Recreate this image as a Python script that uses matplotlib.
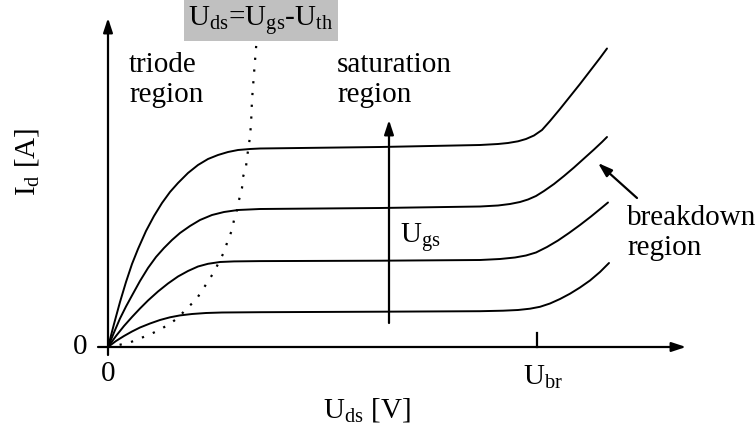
import matplotlib
matplotlib.use('Agg')
import matplotlib.pyplot as plt

plt.rcParams['font.family'] = 'Liberation Serif'
plt.rcParams['mathtext.fontset'] = 'custom'
plt.rcParams['mathtext.rm'] = 'Liberation Serif'
plt.rcParams['mathtext.it'] = 'Liberation Serif:italic'

FS = 21

# output characteristics, one curve per gate voltage (Uds, Id)
uds_1 = [0, 6, 12, 18, 24, 30, 38, 46, 54, 62, 70, 80, 90, 100, 110, 120, 130, 142, 152,
         272, 372, 390, 400, 410, 418, 426, 434, 442, 452, 462, 472, 482, 492, 499]
id_1 = [0, 23, 45, 65, 83, 98, 116, 131, 144, 155, 164, 174, 182, 188, 192, 195, 197, 198, 198.5,
        200, 202, 203, 204, 205.7, 208, 211.5, 217, 226, 238, 250.5, 263, 276, 289, 298.5]

uds_2 = [0, 6, 12, 18, 24, 32, 40, 48, 56, 64, 72, 82, 92, 104, 116, 130, 152,
         272, 372, 390, 402, 412, 420, 428, 436, 446, 456, 466, 476, 486, 494, 499]
id_2 = [0, 14.5, 28.5, 40.5, 51.5, 66, 79, 90, 99, 107, 114, 121, 127, 132, 135, 137, 138,
        139, 140.5, 141.5, 143, 145, 147.5, 151, 156, 163, 171, 179.5, 188.5, 197.5, 205, 210]

uds_3 = [0, 8, 16, 24, 32, 40, 50, 60, 70, 80, 90, 100, 112, 126, 152,
         272, 372, 392, 407, 418, 428, 439, 450, 461, 472, 483, 494, 500]
id_3 = [0, 11, 21, 30, 38.5, 46.5, 55.5, 63.5, 70.5, 76, 80.5, 83.2, 85, 85.6, 85.9,
        86.3, 87, 88, 89.5, 91.5, 94.5, 100, 106.5, 114, 122, 130.5, 139.5, 144.5]

uds_4 = [0, 8, 16, 24, 32, 42, 52, 62, 72, 84, 98, 114, 152,
         272, 372, 395, 410, 422, 432, 442, 452, 462, 472, 482, 492, 501]
id_4 = [0, 6, 11, 15.5, 19.5, 23.5, 27, 29.7, 31.6, 33, 34, 34.5, 34.8,
        35.3, 35.8, 36.3, 37, 38.3, 40.2, 43.5, 48, 53.3, 59.5, 66.5, 75, 84]

# saturation boundary Uds = Ugs - Uth
sat_uds = [0, 11, 23, 33, 43, 53, 63, 71, 79, 88, 93, 99, 106, 111, 116, 120, 124, 126, 129, 131,
           134, 135, 138, 139, 141, 143, 144, 146.5, 148.5]
sat_id = [0, 2, 5, 9, 13, 18, 24, 30, 39, 47, 55, 64, 75, 85, 95, 107, 117, 127, 137, 147,
          159, 170, 180, 190, 202, 222, 247, 280, 305]

u_br = 429

fig = plt.figure(figsize=(7.56, 4.34), dpi=100)
ax = fig.add_axes([0, 0, 1, 1])
ax.set_xlim(-108, 648)
ax.set_ylim(-87, 347)
ax.axis('off')

for u, i in [(uds_1, id_1), (uds_2, id_2), (uds_3, id_3), (uds_4, id_4)]:
    ax.plot(u, i, color='black', lw=1.4, solid_joinstyle='round', solid_capstyle='round')

ax.plot(sat_uds, sat_id, color='black', lw=1.6, linestyle=(0, (1, 4.3)))

# axes with arrow heads
arrow = dict(arrowstyle='-|>,head_length=0.85,head_width=0.28', lw=1.6, color='black',
             shrinkA=0, shrinkB=0, mutation_scale=10)
ax.annotate('', xy=(578, 0), xytext=(-10, 0), arrowprops=arrow)
ax.annotate('', xy=(0, 329), xytext=(0, -8), arrowprops=arrow)
ax.plot([u_br, u_br], [0, 14], color='black', lw=1.6)

# Ugs direction and breakdown pointer
ax.annotate('', xy=(281, 227), xytext=(281, 24), arrowprops=arrow)
ax.annotate('', xy=(490, 184), xytext=(529, 149), arrowprops=arrow)

ax.text(-28, 0, '0', fontsize=FS, ha='center', va='center')
ax.text(0, -27, '0', fontsize=FS, ha='center', va='center')
ax.text(415, -38, 'U$_{\\mathrm{br}}$', fontsize=FS, ha='left', va='baseline')
ax.text(259, -63, 'U$_{\\mathrm{ds}}$ [V]', fontsize=FS, ha='center', va='center')
ax.text(-81, 185, 'I$_{\\mathrm{d}}$ [A]', fontsize=FS, ha='center', va='center', rotation=90)
ax.text(292, 104, 'U$_{\\mathrm{gs}}$', fontsize=FS, ha='left', va='baseline')

for x0, y0, lines in [(21, 275, ['triode', 'region']), (229, 275, ['saturation', 'region']),
                      (519, 122, ['breakdown', 'region'])]:
    for k, s in enumerate(lines):
        ax.text(x0, y0 - 30 * k, s, fontsize=FS, ha='left', va='baseline')

ax.text(153, 327, 'U$_{\\mathrm{ds}}$=U$_{\\mathrm{gs}}$-U$_{\\mathrm{th}}$', fontsize=FS,
        ha='center', va='center',
        bbox=dict(boxstyle='square,pad=0.14', facecolor='#c0c0c0', edgecolor='none'))

fig.savefig('out.png', dpi=100)
